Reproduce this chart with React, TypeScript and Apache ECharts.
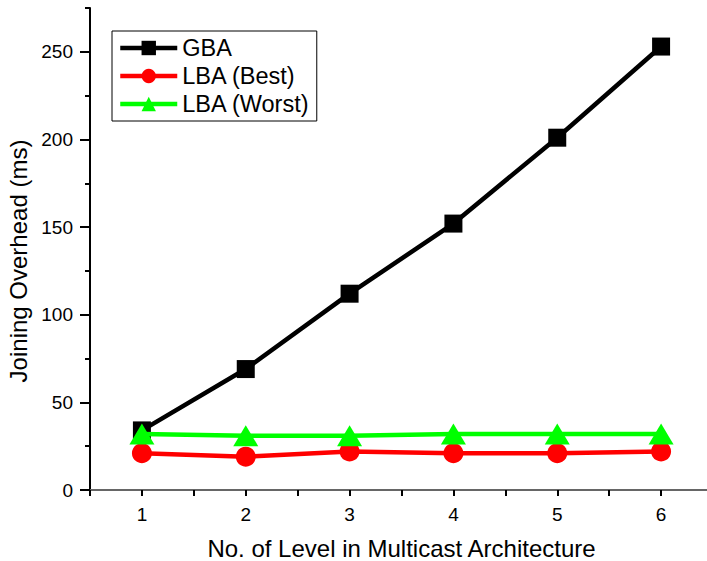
import React, { useEffect, useRef } from "react";
import * as echarts from "echarts";

const levels = [1, 2, 3, 4, 5, 6];
const gba = [34, 69, 112, 152, 201, 253];
const lbaBest = [21, 19, 22, 21, 21, 22];
const lbaWorst = [32, 31, 31, 32, 32, 32];
const yMajorTicks = [0, 50, 100, 150, 200, 250];
const yMinorTicks = [25, 75, 125, 175, 225, 275];
const xMajorTicks = [1, 2, 3, 4, 5, 6];

const FONT = "'Liberation Sans', Arial, Helvetica, sans-serif";

export default function App() {
  const ref = useRef<HTMLDivElement>(null);
  useEffect(() => {
    if (!ref.current) return;
    const chart = echarts.init(ref.current, null, { renderer: "svg" });
    const pair = (vals: number[]) => levels.map((x, i) => [x, vals[i]]);
    chart.setOption({
      animation: false,
      backgroundColor: "#ffffff",
      textStyle: { fontFamily: FONT },
      grid: { left: 90, top: 8, width: 623, bottom: 71, containLabel: false, outerBoundsMode: "none" },
      legend: {
        orient: "vertical",
        left: 112,
        top: 31,
        padding: [5, 7, 5, 6],
        itemGap: 4,
        itemWidth: 57,
        itemHeight: 18,
        itemTextGap: 5,
        borderColor: "#000",
        borderWidth: 1,
        lineStyle: { width: 4.5 },
        textStyle: { fontSize: 23.5, color: "#000", fontFamily: FONT },
        data: ["GBA", "LBA (Best)", "LBA (Worst)"],
      },
      xAxis: [
        {
          type: "value",
          min: 0.5,
          max: 6.5,
          interval: 0.5,
          name: "No. of Level in Multicast Architecture",
          nameLocation: "middle",
          nameGap: 46,
          nameTextStyle: { fontSize: 24, color: "#000", fontFamily: FONT },
          axisLine: { show: true, lineStyle: { color: "#000", width: 2 } },
          axisTick: { show: true, length: 6, lineStyle: { color: "#000", width: 2 } },
          axisLabel: {
            fontSize: 19,
            color: "#000",
            margin: 15,
            fontFamily: FONT,
            customValues: xMajorTicks,
            formatter: (v: number) => String(v),
          },
          splitLine: { show: false },
        },
        {
          type: "value",
          position: "top",
          min: 0.5,
          max: 6.5,
          axisLine: { show: true, lineStyle: { color: "#888", width: 1.5 } },
          axisTick: { show: false },
          axisLabel: { show: false },
          splitLine: { show: false },
        },
      ],
      yAxis: [
        {
          type: "value",
          min: 0,
          max: 275,
          interval: 25,
          name: "Joining Overhead (ms)",
          nameLocation: "middle",
          nameGap: 60,
          nameTextStyle: { fontSize: 24, color: "#000", fontFamily: FONT, padding: [0, 24, 0, 0] },
          axisLine: { show: true, lineStyle: { color: "#000", width: 2 } },
          axisTick: {
            show: true,
            length: 10,
            customValues: yMajorTicks,
            lineStyle: { color: "#000", width: 2 },
          },
          axisLabel: {
            fontSize: 19,
            color: "#000",
            margin: 17,
            fontFamily: FONT,
            customValues: yMajorTicks,
          },
          splitLine: { show: false },
        },
        {
          type: "value",
          position: "left",
          min: 0,
          max: 275,
          interval: 25,
          axisLine: { show: false },
          axisTick: {
            show: true,
            length: 5,
            customValues: yMinorTicks,
            lineStyle: { color: "#000", width: 2 },
          },
          axisLabel: { show: false },
          splitLine: { show: false },
        },
      ],
      series: [
        {
          name: "GBA",
          type: "line",
          data: pair(gba),
          symbol: "rect",
          symbolSize: 18,
          lineStyle: { color: "#000", width: 4.5 },
          itemStyle: { color: "#000" },
          z: 2,
        },
        {
          name: "LBA (Best)",
          type: "line",
          data: pair(lbaBest),
          symbol: "circle",
          symbolSize: 20,
          lineStyle: { color: "#ff0000", width: 4.5 },
          itemStyle: { color: "#ff0000" },
          z: 3,
        },
        {
          name: "LBA (Worst)",
          type: "line",
          data: pair(lbaWorst),
          symbol: "triangle",
          symbolSize: [25, 21],
          lineStyle: { color: "#00ff00", width: 4.5 },
          itemStyle: { color: "#00ff00" },
          z: 4,
        },
      ],
    });
    return () => chart.dispose();
  }, []);
  return (
    <div
      ref={ref}
      style={{ position: "fixed", left: 0, top: 0, width: 707, height: 561, overflow: "hidden" }}
    />
  );
}
